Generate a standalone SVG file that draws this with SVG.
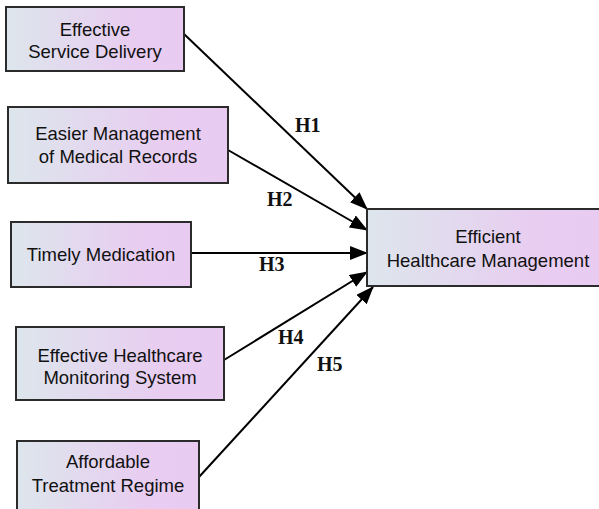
<svg xmlns="http://www.w3.org/2000/svg" width="599" height="509" viewBox="0 0 599 509">
<defs>
<linearGradient id="g" x1="0" y1="0" x2="1" y2="0">
<stop offset="0" stop-color="#dde6ec"/>
<stop offset="0.7" stop-color="#e8cdf1"/>
<stop offset="1" stop-color="#e9cbf2"/>
</linearGradient>
<marker id="ah" viewBox="0 0 18 14" refX="17" refY="7" markerWidth="18" markerHeight="14" markerUnits="userSpaceOnUse" orient="auto">
<path d="M0,0 L18,7 L0,14 z" fill="#000"/>
</marker>
<style>
.box{fill:url(#g);stroke:#2b2b2b;stroke-width:2}
.t{font-family:"Liberation Sans",Arial,sans-serif;font-size:18.5px;fill:#111;text-anchor:middle}
.h{font-family:"Liberation Serif","Times New Roman",serif;font-size:20px;font-weight:bold;fill:#111}
.c{stroke:#000;stroke-width:2;fill:none;marker-end:url(#ah)}
</style>
</defs>
<g id="connectors">
<line class="c" x1="184" y1="34" x2="367" y2="209"/>
<line class="c" x1="228" y1="150" x2="367" y2="230"/>
<line class="c" x1="191" y1="253" x2="367" y2="253"/>
<line class="c" x1="224" y1="360" x2="367" y2="272"/>
<line class="c" x1="199" y1="477" x2="373" y2="287"/>
<text class="h" x="295" y="132">H1</text>
<text class="h" x="267" y="206">H2</text>
<text class="h" x="259" y="271">H3</text>
<text class="h" x="278" y="344">H4</text>
<text class="h" x="317" y="371">H5</text>
</g>
<g id="n1">
<rect class="box" x="6" y="7" width="178" height="64"/>
<text class="t" x="95" y="36">Effective</text>
<text class="t" x="95" y="58">Service Delivery</text>
</g>
<g id="n2">
<rect class="box" x="8" y="107" width="220" height="76"/>
<text class="t" x="118" y="140">Easier Management</text>
<text class="t" x="118" y="163">of Medical Records</text>
</g>
<g id="n3">
<rect class="box" x="11" y="222" width="180" height="65"/>
<text class="t" x="101" y="261">Timely Medication</text>
</g>
<g id="n4">
<rect class="box" x="16" y="327" width="208" height="73"/>
<text class="t" x="120" y="362">Effective Healthcare</text>
<text class="t" x="120" y="384">Monitoring System</text>
</g>
<g id="n5">
<rect class="box" x="17" y="441" width="182" height="76"/>
<text class="t" x="108" y="468">Affordable</text>
<text class="t" x="108" y="492">Treatment Regime</text>
</g>
<g id="target">
<rect class="box" x="367" y="209" width="240" height="77"/>
<text class="t" x="488" y="243">Efficient</text>
<text class="t" x="488" y="267">Healthcare Management</text>
</g>
</svg>
